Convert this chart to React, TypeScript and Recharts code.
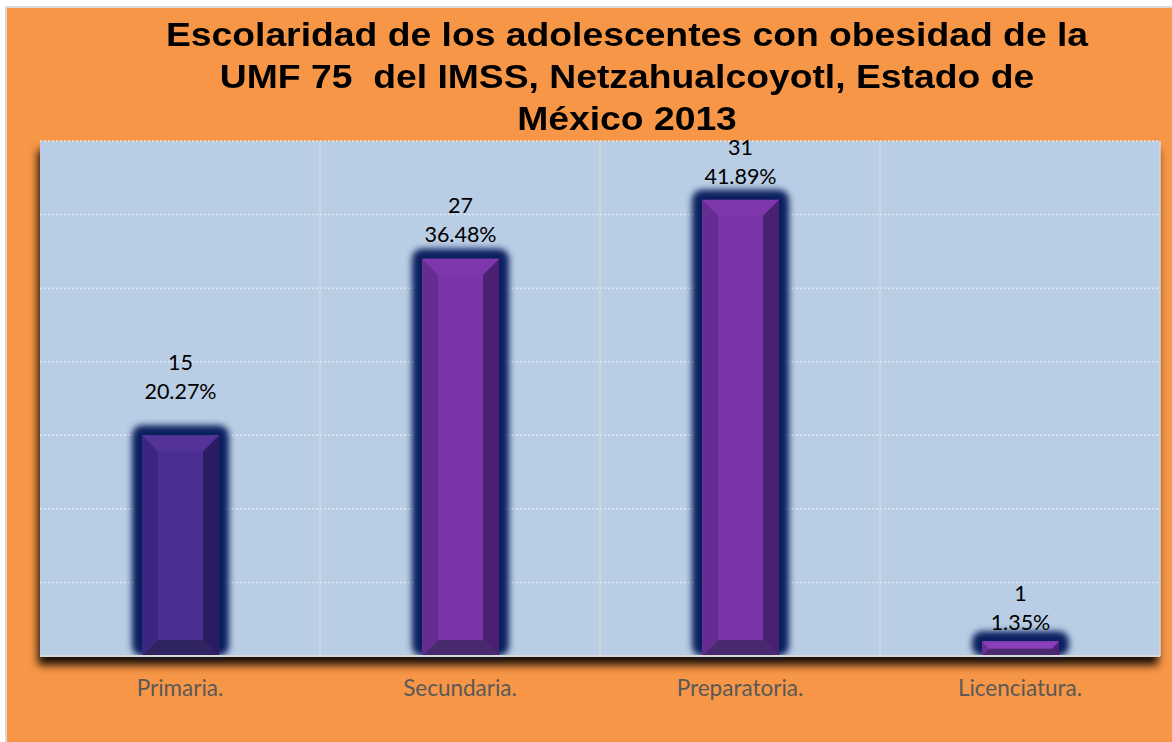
import { BarChart, Bar, XAxis, YAxis, CartesianGrid, Cell, LabelList } from "recharts";

const categories = ["Primaria.", "Secundaria.", "Preparatoria.", "Licenciatura."];
const counts = [15, 27, 31, 1];
const percents = ["20.27%", "36.48%", "41.89%", "1.35%"];
const yTicks = [0, 5, 10, 15, 20, 25, 30, 35];

const titleLines = [
  "Escolaridad de los adolescentes con obesidad de la",
  "UMF 75  del IMSS, Netzahualcoyotl, Estado de",
  "México 2013",
];

// bevel colours per bar (face, left, right, top, bottom)
const faceColors = ["#4B2E91", "#7A35A8", "#7A35A8", "#7D36AE"];
const leftColors = ["#3D2582", "#652C92", "#652C92", "#6A2F98"];
const rightColors = ["#2B1B63", "#4A2072", "#4A2072", "#4D2276"];
const topColors = ["#543397", "#7E38AC", "#7E38AC", "#8A3EBA"];
const bottomColors = ["#2F2460", "#4A2A6E", "#4A2A6E", "#4B2A70"];
// how far the percent label sits above the bar top
const labelLift = [44, 25, 24, 19];

const data = categories.map((name, i) => ({ name, count: counts[i], pct: percents[i] }));

function BevelBar(props: any) {
  const { x, y, width, height, index } = props;
  if (!height || height <= 0) return null;
  const b = Math.min(16, width / 2, height / 2);
  const glow = 10;
  return (
    <g>
      <rect
        x={x - glow}
        y={y - glow}
        width={width + glow * 2}
        height={height + glow}
        rx={10}
        fill="#0A1F5E"
        style={{ filter: "blur(3px)" }}
      />
      <rect x={x} y={y} width={width} height={height} fill={faceColors[index]} />
      <polygon
        points={`${x},${y} ${x + b},${y + b} ${x + b},${y + height - b} ${x},${y + height}`}
        fill={leftColors[index]}
      />
      <polygon
        points={`${x + width},${y} ${x + width - b},${y + b} ${x + width - b},${y + height - b} ${x + width},${y + height}`}
        fill={rightColors[index]}
      />
      <polygon
        points={`${x},${y} ${x + width},${y} ${x + width - b},${y + b} ${x + b},${y + b}`}
        fill={topColors[index]}
      />
      <polygon
        points={`${x},${y + height} ${x + b},${y + height - b} ${x + width - b},${y + height - b} ${x + width},${y + height}`}
        fill={bottomColors[index]}
      />
    </g>
  );
}

const renderPctLabel = (props: any) => {
  const { x, y, width, index } = props;
  return (
    <text
      x={x + width / 2}
      y={y - labelLift[index]}
      textAnchor="middle"
      dominantBaseline="central"
      fontFamily="Lato"
      fontSize={21.5}
      fill="#000"
    >
      {percents[index]}
    </text>
  );
};

const renderCountLabel = (props: any) => {
  const { x, y, width, index } = props;
  return (
    <text
      x={x + width / 2}
      y={y - labelLift[index] - 29}
      textAnchor="middle"
      dominantBaseline="central"
      fontFamily="Lato"
      fontSize={21.5}
      fill="#000"
    >
      {counts[index]}
    </text>
  );
};

const renderTick = (props: any) => {
  const { x, y, payload } = props;
  return (
    <text
      x={x}
      y={y + 31}
      textAnchor="middle"
      dominantBaseline="central"
      fontFamily="Lato"
      fontSize={22.5}
      fill="#595959"
    >
      {payload.value}
    </text>
  );
};

export default function App() {
  return (
    <div style={{ position: "relative", width: 1172, height: 742 }}>
      <style>{`
        body { margin: 0; }
        .plot-bg .recharts-cartesian-grid-bg { filter: drop-shadow(-2px 9px 4px rgba(0,0,0,0.9)); }
      `}</style>
      <div
        style={{
          position: "absolute",
          left: 5,
          top: 6,
          width: 1167,
          height: 736,
          boxSizing: "border-box",
          background: "#F79646",
          borderLeft: "2px solid #D9D9D9",
          borderTop: "2px solid #D9D9D9",
          overflow: "hidden",
        }}
      >
        <div className="plot-bg" style={{ position: "absolute", left: 0, top: 0 }}>
          <BarChart
            width={1165}
            height={734}
            data={data}
            margin={{ top: 133, left: 33, right: 12, bottom: 46 }}
          >
            <CartesianGrid
              vertical={false}
              fill="#B9CDE5"
              stroke="#E4E9F1"
              strokeDasharray="2 2"
              strokeWidth={1.5}
            />
            <CartesianGrid
              horizontal={false}
              stroke="#D9D9D9"
              strokeWidth={1.5}
              verticalCoordinatesGenerator={({ offset }: any) =>
                [1, 2, 3, 4].map((i) => offset.left + (offset.width * i) / categories.length)
              }
            />
            <XAxis
              dataKey="name"
              height={40}
              tickLine={false}
              tickSize={0}
              tickMargin={0}
              axisLine={{ stroke: "#D9D9D9", strokeWidth: 2 }}
              tick={renderTick}
              interval={0}
            />
            <YAxis hide domain={[0, 35]} ticks={yTicks} width={0} />
            <Bar dataKey="count" barSize={77} shape={<BevelBar />} isAnimationActive={false}>
              {data.map((d, i) => (
                <Cell key={`cell-${i}`} fill={faceColors[i]} />
              ))}
              <LabelList dataKey="pct" content={renderPctLabel} />
              <LabelList dataKey="count" content={renderCountLabel} />
            </Bar>
          </BarChart>
        </div>
        <div
          style={{
            position: "absolute",
            left: 0,
            top: 6,
            width: 1240,
            textAlign: "center",
            fontFamily: "'Liberation Sans', Arial, sans-serif",
            fontWeight: "bold",
            fontSize: 33,
            lineHeight: "42px",
            color: "#000",
            whiteSpace: "pre",
            pointerEvents: "none",
            transform: "scaleX(1.13)",
          }}
        >
          {titleLines.map((line, i) => (
            <div key={i}>{line}</div>
          ))}
        </div>
      </div>
    </div>
  );
}
